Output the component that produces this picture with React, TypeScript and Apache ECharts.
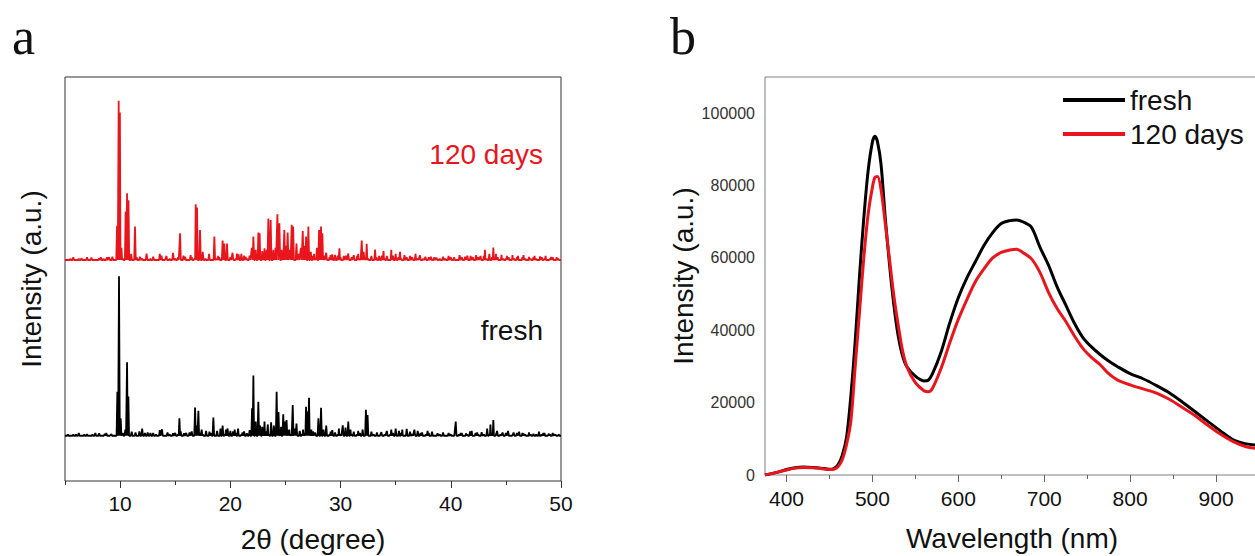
import React, { useEffect, useRef } from "react";
import * as echarts from "echarts";

// ---------- Panel a: XRD ----------
const xrdTickLabels = ["5", "10", "15", "20", "25", "30", "35", "40", "45", "50"];
const xrdFreshBase = 11.2;
const xrd120Base = 54.7;
// [2theta, height above baseline] (arbitrary units, full axis = 100)
const xrd120Peaks: [number, number][] = [
  [6.5, 0.5], [7.4, 0.6], [8.1, 0.4], [8.8, 0.7], [9.3, 0.8], [9.72, 8.5], [9.87, 39.4], [9.98, 36.5],
  [10.12, 3], [10.5, 12], [10.63, 16.5], [10.76, 14.8], [11.0, 1.5], [11.35, 8.3], [11.8, 0.8], [12.4, 1.6],
  [13.0, 0.8], [13.6, 1.5], [14.2, 1], [14.8, 1.8], [15.44, 6.6], [15.9, 0.8], [16.4, 1.2], [16.86, 13.8],
  [16.98, 13], [17.25, 7.4], [17.5, 2], [18.07, 1.5], [18.55, 5.8], [18.9, 1], [19.3, 4.8], [19.45, 4.1],
  [19.7, 4.1], [20.2, 1.8], [20.6, 1.6], [21.0, 1.5], [21.4, 0.8], [21.95, 3], [22.09, 5.8], [22.3, 2.5],
  [22.54, 6.8], [22.66, 6.6], [22.9, 2.2], [23.1, 2.9], [23.3, 2.5], [23.45, 10.3], [23.66, 9.9], [23.9, 2.5],
  [24.1, 3], [24.27, 11.3], [24.45, 9.1], [24.65, 2.5], [24.9, 7.4], [25.05, 3.5], [25.2, 6.8], [25.4, 2.5],
  [25.57, 8.7], [25.7, 8.3], [26.0, 4.1], [26.2, 1.5], [26.4, 3], [26.57, 7.2], [26.75, 3.5], [26.87, 5.8],
  [27.08, 8.3], [27.3, 2], [27.6, 1.5], [27.85, 3], [28.05, 7.4], [28.23, 8.3], [28.35, 6.6], [28.7, 1.8],
  [29.1, 1.2], [29.5, 1.3], [29.9, 2.9], [30.3, 1], [30.7, 1.6], [31.2, 1.2], [31.6, 1.5], [31.92, 4.8],
  [32.1, 2], [32.37, 4], [32.8, 1], [33.13, 2.6], [33.5, 1], [33.9, 2.2], [34.2, 1], [34.6, 2.5],
  [35.0, 1.5], [35.4, 2], [35.8, 1.2], [36.3, 1], [36.8, 1.5], [37.2, 1.2], [37.7, 0.8], [38.2, 0.8],
  [38.7, 0.6], [39.3, 0.8], [39.8, 1], [40.3, 0.7], [40.8, 1.2], [41.3, 0.8], [41.8, 1], [42.3, 1.2],
  [42.7, 1], [43.1, 2.5], [43.5, 1.5], [43.86, 3.1], [44.1, 1.5], [44.6, 1.3], [45.1, 1], [45.6, 1.2],
  [46.1, 1], [46.6, 1.2], [47.1, 0.8], [47.6, 1], [48.1, 0.9], [48.6, 1], [49.1, 0.8], [49.6, 0.7],
];
const xrdFreshPeaks: [number, number][] = [
  [6.0, 0.3], [7.0, 0.4], [8.1, 0.6], [8.6, 0.5], [9.2, 0.4], [9.75, 10.9], [9.9, 39.5], [10.05, 4.3],
  [10.47, 1.5], [10.63, 18.2], [10.75, 9.7], [11.05, 1], [11.4, 0.8], [12.0, 1.8], [12.5, 0.8], [13.0, 0.7],
  [13.6, 1.4], [13.8, 1.6], [14.3, 0.8], [14.8, 0.6], [15.38, 4.3], [15.8, 0.6], [16.3, 0.8], [16.8, 7.0],
  [16.95, 2.5], [17.1, 6.2], [17.4, 1.5], [17.8, 1.2], [18.1, 1], [18.46, 4.5], [18.8, 1.2], [19.1, 1.8],
  [19.3, 2.5], [19.6, 1.5], [19.75, 1.8], [20.0, 1.2], [20.4, 1.5], [20.7, 1.8], [21.1, 0.8], [21.5, 0.6],
  [21.97, 6.8], [22.09, 14.9], [22.3, 3.5], [22.54, 8.4], [22.7, 2.5], [22.9, 2.2], [23.1, 3.5], [23.4, 2.8],
  [23.7, 3.3], [23.95, 2.5], [24.2, 10.9], [24.37, 5.9], [24.6, 2.2], [24.8, 5.3], [24.95, 3.5], [25.1, 3.9],
  [25.35, 1.5], [25.66, 7.6], [25.85, 1.8], [26.0, 3.0], [26.3, 1.2], [26.6, 1.5], [26.87, 7.2], [27.0, 6],
  [27.14, 9.4], [27.35, 1.5], [27.7, 0.8], [27.99, 4.3], [28.23, 6.9], [28.45, 1.5], [28.7, 2.5], [29.1, 1],
  [29.5, 0.8], [29.85, 1.8], [30.2, 2.6], [30.45, 2], [30.7, 3.5], [30.9, 1.5], [31.2, 1], [31.6, 1.2],
  [32.0, 1.5], [32.3, 6.4], [32.45, 5.1], [32.8, 1], [33.3, 0.8], [33.7, 0.9], [34.2, 1.2], [34.6, 1.5],
  [35.0, 1.8], [35.3, 1.2], [35.6, 1.5], [36.0, 1.7], [36.3, 1], [36.7, 1.5], [37.0, 1.2], [37.4, 0.8],
  [37.9, 1.2], [38.3, 1], [38.8, 0.6], [39.3, 0.8], [39.8, 0.7], [40.45, 3.5], [40.9, 0.7], [41.4, 0.6],
  [41.9, 1.2], [42.4, 0.8], [42.8, 0.9], [43.3, 1.8], [43.6, 2.8], [43.86, 3.9], [44.2, 1.2], [44.7, 0.8],
  [45.2, 1.2], [45.7, 0.8], [46.2, 1], [46.6, 0.6], [47.1, 0.8], [47.5, 0.5], [48.0, 1], [48.4, 0.7],
  [48.9, 0.5], [49.4, 0.4], [49.8, 0.3],
];
// baseline roughness: one digit per 0.25° from 5° to 50° (digit × 0.35 units)
const xrd120Noise =
  "10120110201012102101" + "21013021102120130212" + "12031021302120312031" +
  "23142313241324132413" + "32413241323142312413" + "21312031221302131203" +
  "12102120131021201210" + "21012031202131021201" + "120120210121021012010";
const xrdFreshNoise =
  "01010201101210120102" + "12021013021201210312" + "21302130121302120213" +
  "13241324231423142312" + "24132312413241231421" + "13021312031213021312" +
  "21201210320121021201" + "10212013021210120210" + "210120210121012012101";

// ---------- Panel b: PL ----------
const plTickLabels = [
  "375", "400", "425", "450", "475", "500", "525", "550", "575", "600", "625", "650",
  "675", "700", "725", "750", "775", "800", "825", "850", "875", "900", "925", "950",
];
const wavelength = [
  375, 390, 400, 410, 420, 430, 440, 450, 455, 460,
  465, 470, 475, 480, 485, 490, 495, 500, 503, 506,
  510, 515, 520, 525, 530, 535, 540, 550, 560, 565,
  570, 580, 590, 600, 610, 620, 630, 640, 650, 660,
  668, 675, 685, 695, 705, 715, 725, 735, 745, 755,
  765, 775, 785, 800, 815, 830, 845, 860, 875, 890,
  905, 920, 935, 950,
];
const plFresh = [
  0, 800, 1500, 2000, 2200, 2100, 1900, 1600, 1800, 2800,
  5500, 10500, 22000, 37000, 55000, 71000, 84000, 92000, 93600, 92000,
  86000, 71000, 58000, 47000, 38500, 33000, 30000, 27300, 26000, 26200,
  28000, 34000, 42000, 49000, 54500, 59000, 63500, 67000, 69500, 70300,
  70500, 70000, 68500, 63000, 58000, 52000, 47000, 42000, 38000, 35400,
  33300, 31500, 30000, 28000, 26600, 24800, 22800, 20300, 17600, 14900,
  12200, 9700, 8600, 8200,
];
const pl120 = [
  0, 800, 1400, 1900, 2100, 2000, 1800, 1500, 1600, 2300,
  4300, 8500, 15000, 30000, 45000, 60000, 72000, 79500, 82300, 82500,
  79000, 69500, 59500, 49500, 41500, 34500, 30000, 25500, 23300, 23000,
  24000, 29500, 36500, 43000, 48500, 53500, 57000, 60000, 61500, 62200,
  62400, 61500, 59800, 56000, 50500, 46000, 42500, 38500, 35000, 32500,
  30500, 28000, 26300, 24900, 23800, 22700, 21000, 18800, 16500, 13800,
  11300, 9200, 7800, 7300,
];

const RED = "#e8161c";
const FONT = "'Liberation Sans', Arial, Helvetica, sans-serif";

function peakTrace(base: number, peaks: [number, number][], noise: string, lo: number, hi: number) {
  const all: [number, number][] = [...peaks];
  for (let k = 0; k < noise.length; k++) {
    const x = lo + k * 0.25;
    if (x <= lo || x >= hi) continue;
    if (all.some(([p]) => Math.abs(p - x) < 0.1)) continue;
    all.push([x, Number(noise[k]) * 0.35]);
  }
  all.sort((a, b) => a[0] - b[0]);
  const pts: number[][] = [[lo, base]];
  all.forEach(([p, h], i) => {
    const prev = i > 0 ? all[i - 1][0] : lo;
    const next = i < all.length - 1 ? all[i + 1][0] : hi;
    const w = Math.min(0.07, (p - prev) / 2, (next - p) / 2);
    pts.push([p - w, base], [p, base + h], [p + w, base]);
  });
  pts.push([hi, base]);
  return pts;
}

export default function App() {
  const ref = useRef<HTMLDivElement>(null);
  useEffect(() => {
    if (!ref.current) return;
    const chart = echarts.init(ref.current, null, { renderer: "svg" });
    const axisText = { fontFamily: FONT, fontSize: 21, color: "#111" };
    const nameText = { fontFamily: FONT, fontSize: 28, color: "#111" };
    chart.setOption({
      animation: false,
      backgroundColor: "#fff",
      grid: [
        { left: 65, top: 77, width: 496, height: 404, show: true, borderColor: "#333", borderWidth: 1, outerBoundsMode: "none" },
        { left: 765, top: 77, width: 494, height: 398, show: true, borderColor: "#808080", borderWidth: 1, outerBoundsMode: "none" },
      ],
      xAxis: [
        { type: "value", gridIndex: 0, min: 5, max: 50, show: false },
        {
          type: "category", gridIndex: 0, position: "bottom", data: xrdTickLabels, boundaryGap: false,
          axisLine: { show: false },
          axisTick: { show: true, length: 7, interval: (i: number) => i % 2 === 1, lineStyle: { color: "#333" } },
          axisLabel: { ...axisText, margin: 12, interval: (i: number) => i % 2 === 1 },
          splitLine: { show: false },
          name: "2θ (degree)", nameLocation: "middle", nameGap: 44, nameTextStyle: nameText,
        },
        {
          type: "category", gridIndex: 0, position: "bottom", data: xrdTickLabels, boundaryGap: false,
          axisLine: { show: false },
          axisTick: { show: true, length: 4, interval: (i: number) => i % 2 === 0, lineStyle: { color: "#333" } },
          axisLabel: { show: false }, splitLine: { show: false },
        },
        { type: "value", gridIndex: 1, min: 375, max: 950, show: false },
        {
          type: "category", gridIndex: 1, position: "bottom", data: plTickLabels, boundaryGap: false,
          axisLine: { show: false },
          axisTick: { show: true, length: 7, interval: (i: number) => i % 4 === 1, lineStyle: { color: "#666" } },
          axisLabel: { ...axisText, margin: 13, interval: (i: number) => i % 4 === 1 },
          splitLine: { show: false },
          name: "Wavelength (nm)", nameLocation: "middle", nameGap: 49, nameTextStyle: nameText,
        },
        {
          type: "category", gridIndex: 1, position: "bottom", data: plTickLabels, boundaryGap: false,
          axisLine: { show: false },
          axisTick: { show: true, length: 4, interval: (i: number) => i % 4 === 3, lineStyle: { color: "#666" } },
          axisLabel: { show: false }, splitLine: { show: false },
        },
      ],
      yAxis: [
        {
          type: "value", gridIndex: 0, min: 0, max: 100,
          axisLine: { show: false }, axisTick: { show: false }, axisLabel: { show: false }, splitLine: { show: false },
          name: "Intensity (a.u.)", nameLocation: "middle", nameGap: 20, nameTextStyle: nameText,
        },
        {
          type: "value", gridIndex: 1, min: 0, max: 110000, interval: 20000,
          axisLine: { show: false }, axisTick: { show: false }, splitLine: { show: false },
          axisLabel: {
            fontFamily: FONT, fontSize: 16, color: "#333", margin: 10, showMaxLabel: false,
            formatter: (v: number) => String(v),
          },
          name: "Intensity (a.u.)", nameLocation: "middle", nameGap: 68, nameTextStyle: nameText,
          nameMoveOverlap: false,
        },
      ],
      legend: {
        data: ["fresh", "120 days"], orient: "vertical", left: 1058, top: 81,
        icon: "rect", itemWidth: 62, itemHeight: 4, itemGap: 6,
        textStyle: { fontFamily: FONT, fontSize: 28, color: "#111" },
      },
      graphic: [
        { type: "text", left: 12, top: 10, style: { text: "a", font: "52px 'Liberation Serif', 'Times New Roman', serif", fill: "#111" } },
        { type: "text", left: 670, top: 10, style: { text: "b", font: "52px 'Liberation Serif', 'Times New Roman', serif", fill: "#111" } },
        { type: "text", x: 543, y: 154, style: { text: "120 days", font: `28px ${FONT}`, fill: RED, align: "right", verticalAlign: "middle" } },
        { type: "text", x: 543, y: 330, style: { text: "fresh", font: `28px ${FONT}`, fill: "#111", align: "right", verticalAlign: "middle" } },
      ],
      series: [
        {
          name: "120 days (XRD)", type: "line", xAxisIndex: 0, yAxisIndex: 0, symbol: "none",
          data: peakTrace(xrd120Base, xrd120Peaks, xrd120Noise, 5, 50), lineStyle: { color: RED, width: 1.8 }, color: RED,
        },
        {
          name: "fresh (XRD)", type: "line", xAxisIndex: 0, yAxisIndex: 0, symbol: "none",
          data: peakTrace(xrdFreshBase, xrdFreshPeaks, xrdFreshNoise, 5, 50), lineStyle: { color: "#000", width: 1.8 }, color: "#000",
        },
        {
          name: "fresh", type: "line", xAxisIndex: 3, yAxisIndex: 1, symbol: "none", smooth: 0.3,
          data: wavelength.map((w, i) => [w, plFresh[i]]), lineStyle: { color: "#000", width: 3 }, color: "#000",
        },
        {
          name: "120 days", type: "line", xAxisIndex: 3, yAxisIndex: 1, symbol: "none", smooth: 0.3,
          data: wavelength.map((w, i) => [w, pl120[i]]), lineStyle: { color: RED, width: 3 }, color: RED,
        },
      ],
    });
    return () => chart.dispose();
  }, []);
  return (
    <div
      ref={ref}
      style={{ position: "fixed", left: 0, top: 0, width: 1255, height: 556, background: "#fff" }}
    />
  );
}
